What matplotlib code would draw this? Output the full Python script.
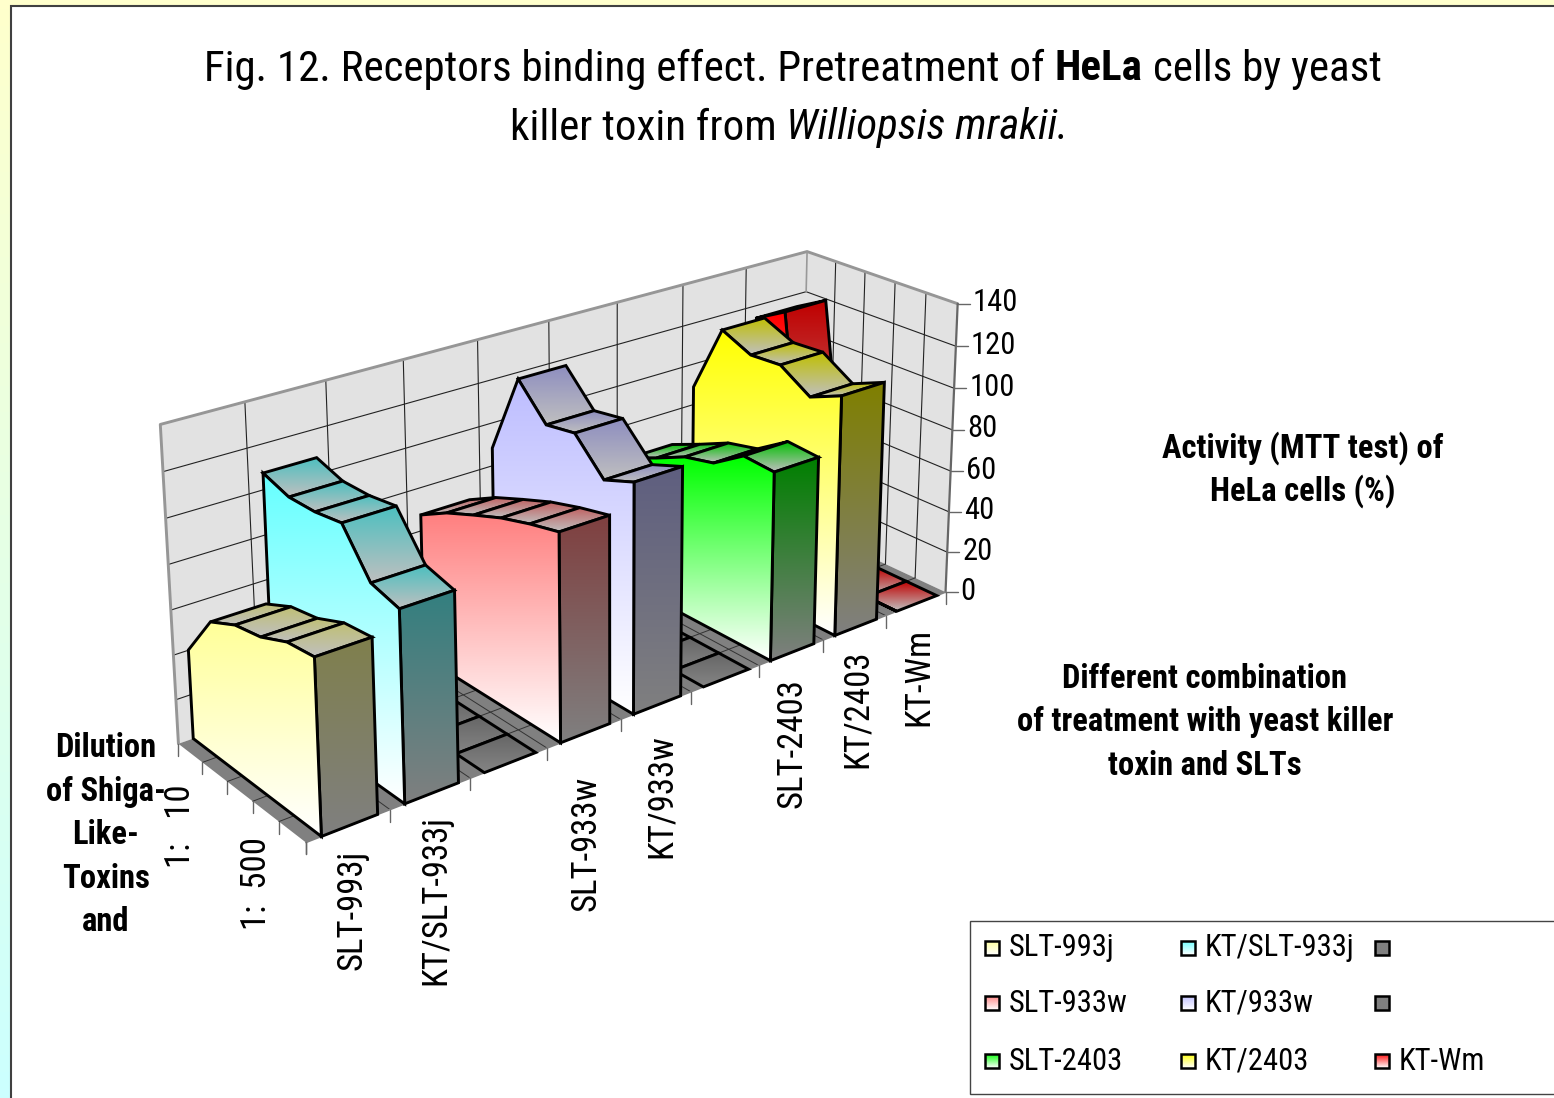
import numpy as np
import matplotlib
matplotlib.use('Agg')
import matplotlib.pyplot as plt
from matplotlib.patches import Polygon, Rectangle

W, H = 1554, 1098
FONT = ['Roboto Condensed', 'Liberation Sans']
plt.rcParams['font.family'] = FONT

# data, depth runs from the back of the chart to the front
series_names = ['SLT-993j', 'KT/SLT-933j', '', 'SLT-933w', 'KT/933w', '', 'SLT-2403', 'KT/2403', 'KT-Wm']
slt_993j = [40.1, 60.1, 66.2, 68.6, 74.1, 75.6]
kt_slt_933j = [107.3, 103.3, 103.5, 105.5, 87.1, 83.5]
blank_1 = [0, 0, 0, 0, 0, 0]
slt_933w = [67.4, 75.0, 80.7, 86.1, 90.2, 93.5]
kt_933w = [88.3, 126.1, 111.2, 113.6, 99.0, 104.5]
blank_2 = [0, 0, 0, 0, 0, 0]
slt_2403 = [63.4, 69.7, 76.5, 79.9, 89.5, 88.4]
kt_2403 = [88.7, 122.0, 115.5, 116.4, 107.1, 113.5]
kt_wm = [113.8, 122.1, 2, 0, 0, 0]
all_values = [slt_993j, kt_slt_933j, blank_1, slt_933w, kt_933w, blank_2, slt_2403, kt_2403, kt_wm]
value_ticks = [0, 20, 40, 60, 80, 100, 120, 140]

colors = ['#FFFF99', '#66FFFF', '#808080', '#FF8080', '#BDBDFF', '#808080', '#00FF00', '#FFFF00', '#FF0000']

# calibration of the 3D box: (series pos, depth pos, value) -> picture pixel
box_pts = [(0, 5, 0), (9, 5, 0), (0, 0, 0), (0, 0, 140), (9, 0, 140), (9, 5, 140),
           (1, 5, 0), (0, 1, 0), (0, 0, 60), (9, 0, 120), (9, 5, 60)]
box_px = [(307, 842), (945, 593), (178, 742), (160, 425), (807, 252), (957, 303),
          (390, 811), (202, 763), (171, 610), (807, 292), (951, 470)]

rows, rhs = [], []
for (a, b, c), (u, v) in zip(box_pts, box_px):
    rows.append([a, b, c, 1, 0, 0, 0, 0, -u * a, -u * b, -u * c])
    rows.append([0, 0, 0, 0, a, b, c, 1, -v * a, -v * b, -v * c])
    rhs += [u, v]
sol = np.linalg.lstsq(np.array(rows, float), np.array(rhs, float), rcond=None)[0]
P = np.append(sol, 1).reshape(3, 4)


def proj(a, b, c):
    p = P @ np.array([a, b, c, 1.0])
    return p[0] / p[2], p[1] / p[2]


fig = plt.figure(figsize=(W / 100, H / 100), dpi=100)
ax = fig.add_axes([0, 0, 1, 1])
zo = [1]


def next_z():
    zo[0] += 1
    return zo[0]


def gradient(pts, top, bottom, edge='black', lw=2.1):
    pts = np.array(pts)
    z = next_z()
    patch = Polygon(pts, closed=True, facecolor='none', edgecolor=edge, lw=lw, joinstyle='miter', zorder=z + 0.5)
    ax.add_patch(patch)
    xmin, ymin = pts.min(axis=0)
    xmax, ymax = pts.max(axis=0)
    ramp = np.linspace(0, 1, 64)[:, None, None]
    img = np.array(top)[None, None, :] * (1 - ramp) + np.array(bottom)[None, None, :] * ramp
    im = ax.imshow(img, extent=(xmin, xmax + 0.01, ymax + 0.01, ymin), aspect='auto', interpolation='bilinear', zorder=z)
    im.set_clip_path(patch)


def line(pts, color, lw):
    xs, ys = zip(*pts)
    ax.plot(xs, ys, color=color, lw=lw, solid_capstyle='round', zorder=next_z())


# page background with the white chart area on top
ramp = np.linspace(0, 1, 128)[:, None, None]
bg = np.array([1, 1, 0.8])[None, None, :] * (1 - ramp) + np.array([0.8, 1, 1])[None, None, :] * ramp
ax.imshow(bg, extent=(0, W, H, 0), aspect='auto', zorder=0)
ax.add_patch(Rectangle((10.5, 5.5), W, H, facecolor='white', edgecolor='#404040', lw=1.5, zorder=1))

# walls and floor
wall = '#E2E2E2'
ax.add_patch(Polygon([proj(0, 0, 0), proj(9, 0, 0), proj(9, 0, 140), proj(0, 0, 140)], facecolor=wall, edgecolor='none', zorder=next_z()))
ax.add_patch(Polygon([proj(9, 0, 0), proj(9, 5, 0), proj(9, 5, 140), proj(9, 0, 140)], facecolor=wall, edgecolor='none', zorder=next_z()))
ax.add_patch(Polygon([proj(0, 0, 0), proj(9, 0, 0), proj(9, 5, 0), proj(0, 5, 0)], facecolor='#808080', edgecolor='none', zorder=next_z()))

for t in value_ticks[1:-1]:
    line([proj(0, 0, t), proj(9, 0, t), proj(9, 5, t)], '#222222', 0.8)
for i in range(1, 9):
    line([proj(i, 0, 0), proj(i, 0, 140)], '#222222', 0.8)
    line([proj(i, 0, 0), proj(i, 5, 0)], '#333333', 0.7)
for d in range(1, 5):
    line([proj(9, d, 0), proj(9, d, 140)], '#222222', 0.8)
    line([proj(0, d, 0), proj(9, d, 0)], '#333333', 0.7)
line([proj(0, 0, 0), proj(0, 0, 140), proj(9, 0, 140), proj(9, 5, 140)], '#969696', 2.1)
line([proj(9, 0, 140), proj(9, 0, 120)], '#999999', 1.2)
line([proj(9, 5, 140), proj(9, 5, 0)], '#666666', 1.6)
line([proj(0, 5, 0), proj(9, 5, 0)], '#808080', 1.2)

# ticks
for t in value_ticks:
    u, v = proj(9, 5, t)
    line([(u, v), (u + 12, v)], '#666666', 1.0)
    ax.text(u + 15, v - 1, str(t), fontsize=22, ha='left', va='center', color='black')
for i in range(10):
    u, v = proj(i, 5, 0)
    line([(u, v), (u, v + 12)], '#666666', 1.0)
for d in range(6):
    u, v = proj(0, d, 0)
    line([(u, v), (u, v + 12)], '#666666', 1.0)

# areas, far series first
X0, X1 = 0.18, 0.85
white = np.array([1.0, 1.0, 1.0])
for i in range(8, -1, -1):
    vals = all_values[i]
    x0, x1 = i + X0, i + X1
    base = np.array(matplotlib.colors.to_rgb(colors[i]))
    is_blank = series_names[i] == ''
    if is_blank:
        top_a, top_b = (0.40, 0.40, 0.40), (0.52, 0.52, 0.52)
    else:
        top_a, top_b = base * 0.75, white * 0.75
    for d in range(5):
        quad = [proj(x0, d, vals[d]), proj(x1, d, vals[d]), proj(x1, d + 1, vals[d + 1]), proj(x0, d + 1, vals[d + 1])]
        q = np.array(quad)
        area = 0.5 * np.sum(q[:, 0] * np.roll(q[:, 1], -1) - np.roll(q[:, 0], -1) * q[:, 1])
        if area > 0:
            gradient(quad, top_a, top_b)
    if not is_blank and vals[5] > 0:
        cap = [proj(x0, 5, vals[5]), proj(x1, 5, vals[5]), proj(x1, 5, 0), proj(x0, 5, 0)]
        gradient(cap, base * 0.5, white * 0.5)
    if not is_blank:
        side = [proj(x0, d, vals[d]) for d in range(6)] + [proj(x0, 5, 0), proj(x0, 0, 0)]
        gradient(side, base, white)

# title, three styles on one line so it is laid out run by run
renderer = fig.canvas.get_renderer()


def runs(cx, cy, parts, fontsize, gap):
    items = [ax.text(0, cy, s, fontsize=fontsize, weight=w, style=st, ha='left', va='center', zorder=500) for s, w, st in parts]
    widths = [t.get_window_extent(renderer).width for t in items]
    left = cx - (sum(widths) + gap * (len(items) - 1)) / 2
    for t, wd in zip(items, widths):
        t.set_x(left)
        left += wd + gap


runs(793, 69, [('Fig. 12. Receptors binding effect. Pretreatment of', 'normal', 'normal'), ('HeLa', 'bold', 'normal'),
               ('cells by yeast', 'normal', 'normal')], 31, 10)
runs(789, 128, [('killer toxin from', 'normal', 'normal'), ('Williopsis mrakii.', 'normal', 'italic')], 31, 10)

# axis titles
for s, cx, cy in [('Activity (MTT test) of', 1303, 448), ('HeLa cells (%)', 1303, 491),
                  ('Different combination', 1205, 679), ('of treatment with yeast killer', 1205, 722),
                  ('toxin and SLTs', 1205, 766), ('Dilution', 106, 748), ('of Shiga-', 106, 792),
                  ('Like-', 106, 835), ('Toxins', 106, 879), ('and', 106, 922)]:
    ax.text(cx, cy, s, fontsize=23.5, weight='bold', ha='center', va='center', zorder=500)

# rotated category labels
label_x = [352, 436, 0, 586, 661, 0, 792, 857, 919]
label_top = [850, 815, 0, 776, 734, 0, 678, 649, 628]
for s, lx, ly in zip(series_names, label_x, label_top):
    if s:
        ax.text(lx, ly, s, fontsize=25, rotation=90, ha='center', va='top', zorder=500)
ax.text(181, 826, '1:   10', fontsize=25, rotation=90, ha='center', va='center', zorder=500)
ax.text(257, 884, '1:  500', fontsize=25, rotation=90, ha='center', va='center', zorder=500)

# legend
ax.add_patch(Rectangle((969.5, 920.5), 700, 173, facecolor='white', edgecolor='#444444', lw=1.0, zorder=next_z()))
leg_x = [992, 1188, 1382]
leg_y = [948, 1003, 1061]
leg_order = [[0, 1, 2], [3, 4, 5], [6, 7, 8]]
for r, row in enumerate(leg_order):
    for c, idx in enumerate(row):
        cx, cy = leg_x[c], leg_y[r]
        sq = [(cx - 7, cy - 7), (cx + 7, cy - 7), (cx + 7, cy + 7), (cx - 7, cy + 7)]
        base = matplotlib.colors.to_rgb(colors[idx])
        gradient(sq, base, base if series_names[idx] == '' else white, lw=1.8)
        if series_names[idx]:
            ax.text(cx + 17, cy, series_names[idx], fontsize=22, ha='left', va='center', zorder=500)

ax.set_xlim(0, W)
ax.set_ylim(H, 0)
ax.axis('off')
fig.savefig('out.png', dpi=100)
